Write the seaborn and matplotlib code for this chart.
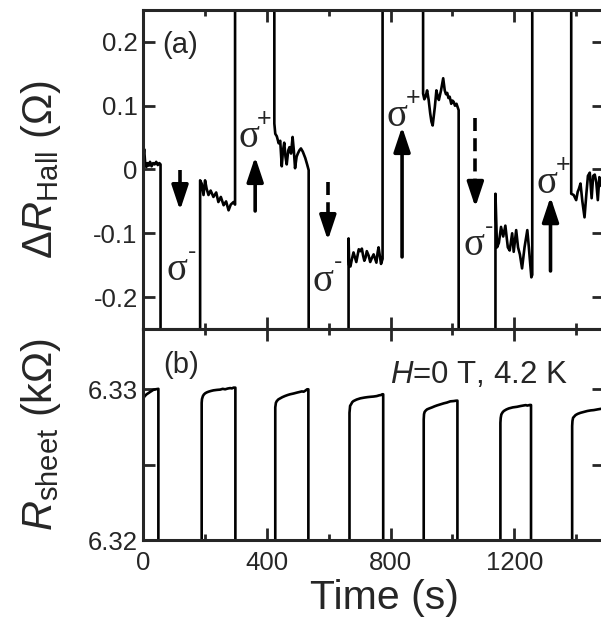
import matplotlib
matplotlib.use("Agg")
import matplotlib.pyplot as plt
import matplotlib.ticker as mticker
import numpy as np
import pandas as pd
import seaborn as sns

# ------------------------------------------------------------------ data
# (a) Hall resistance change; segments between illumination periods.
hall_a_t = [0, 3, 6, 10, 14, 18, 22, 27, 32, 37, 42, 47, 52, 56]
hall_a_v = [0.018, 0.032, 0.012, 0.004, 0.010, 0.006, 0.012, 0.005, 0.010, 0.008, 0.012, 0.007, 0.010, 0.008]
hall_b_t = [184, 189, 195, 200, 205, 211, 218, 227, 236, 243, 251, 260, 268, 276, 283, 292, 297]
hall_b_v = [-0.017, -0.022, -0.040, -0.017, -0.030, -0.040, -0.033, -0.043, -0.036, -0.051, -0.043, -0.056, -0.050, -0.064, -0.055, -0.051, -0.055]
hall_c_t = [424, 427, 432, 438, 443, 448, 452, 456, 460, 464, 469, 473, 478, 483, 487, 491, 496, 500, 505, 510, 516, 524, 530, 535]
hall_c_v = [0.072, 0.056, 0.052, 0.041, 0.045, 0.005, 0.030, 0.042, 0.020, 0.008, 0.030, 0.035, 0.025, 0.051, 0.030, 0.002, 0.020, 0.025, 0.030, 0.033, 0.028, 0.018, 0.008, -0.001]
hall_d_t = [664, 666, 670, 675, 680, 685, 689, 693, 697, 702, 707, 711, 715, 719, 723, 729, 734, 740, 745, 750, 754, 758, 761, 765, 769, 774]
hall_d_v = [-0.108, -0.150, -0.152, -0.140, -0.130, -0.138, -0.145, -0.135, -0.125, -0.128, -0.124, -0.135, -0.143, -0.138, -0.128, -0.135, -0.145, -0.138, -0.133, -0.140, -0.146, -0.130, -0.122, -0.135, -0.148, -0.140]
hall_e_t = [905, 909, 913, 918, 923, 928, 932, 936, 940, 943, 948, 952, 956, 960, 963, 967, 970, 975, 979, 983, 987, 991, 996, 1000, 1004, 1008, 1013, 1017, 1020]
hall_e_v = [0.119, 0.110, 0.114, 0.124, 0.109, 0.088, 0.075, 0.069, 0.085, 0.098, 0.124, 0.115, 0.109, 0.118, 0.124, 0.135, 0.143, 0.124, 0.118, 0.120, 0.112, 0.114, 0.103, 0.108, 0.106, 0.100, 0.103, 0.097, 0.093]
hall_f_t = [1139, 1144, 1150, 1157, 1164, 1171, 1179, 1185, 1193, 1198, 1206, 1212, 1218, 1225, 1233, 1242, 1247, 1255, 1258]
hall_f_v = [-0.038, -0.122, -0.115, -0.090, -0.105, -0.088, -0.122, -0.127, -0.100, -0.129, -0.095, -0.122, -0.133, -0.155, -0.122, -0.095, -0.122, -0.169, -0.165]
hall_g_t = [1384, 1392, 1400, 1405, 1409, 1414, 1420, 1427, 1433, 1438, 1444, 1450, 1455, 1460, 1465, 1470, 1475, 1480, 1490]
hall_g_v = [-0.038, -0.040, -0.048, -0.035, -0.030, -0.022, -0.050, -0.075, -0.038, -0.010, -0.005, -0.045, -0.010, -0.008, -0.020, -0.048, -0.012, -0.025, -0.030]
# level the Hall signal takes (off the plotted range) during each illumination gap
hall_gap_level = [-0.4, 0.4, -0.4, 0.4, -0.4, 0.4]

# (b) sheet resistance segments
rs_1_t = [0, 5, 11, 17, 22, 28, 33, 40, 46, 49]
rs_1_v = [6.32940, 6.32955, 6.32967, 6.32975, 6.32982, 6.32990, 6.32997, 6.33000, 6.33002, 6.33003]
rs_2_t = [189, 190, 193, 196, 200, 205, 211, 219, 227, 238, 249, 257, 265, 273, 281, 287, 292, 298]
rs_2_v = [6.32910, 6.32935, 6.32955, 6.32965, 6.32973, 6.32979, 6.32984, 6.32989, 6.32993, 6.32996, 6.32998, 6.33003, 6.33000, 6.33005, 6.33008, 6.33006, 6.33011, 6.33011]
rs_3_t = [427, 429, 432, 437, 443, 450, 459, 467, 475, 486, 497, 505, 513, 519, 525, 530, 534]
rs_3_v = [6.32880, 6.32910, 6.32922, 6.32933, 6.32940, 6.32948, 6.32956, 6.32962, 6.32967, 6.32972, 6.32978, 6.32982, 6.32986, 6.32984, 6.32992, 6.33000, 6.33000]
rs_4_t = [667, 669, 672, 676, 680, 690, 702, 715, 725, 734, 745, 755, 763, 769, 773, 776]
rs_4_v = [6.32844, 6.32890, 6.32900, 6.32915, 6.32922, 6.32932, 6.32940, 6.32945, 6.32948, 6.32950, 6.32952, 6.32955, 6.32960, 6.32962, 6.32967, 6.32967]
rs_5_t = [907, 908, 910, 914, 918, 925, 934, 942, 950, 961, 972, 982, 993, 1004, 1010, 1016]
rs_5_v = [6.32800, 6.32835, 6.32850, 6.32860, 6.32867, 6.32873, 6.32880, 6.32887, 6.32893, 6.32900, 6.32907, 6.32912, 6.32920, 6.32922, 6.32924, 6.32925]
rs_6_t = [1155, 1156, 1158, 1162, 1166, 1174, 1182, 1195, 1209, 1220, 1231, 1237, 1242, 1250, 1254]
rs_6_v = [6.32778, 6.32810, 6.32833, 6.32847, 6.32856, 6.32866, 6.32873, 6.32880, 6.32884, 6.32889, 6.32893, 6.32895, 6.32892, 6.32896, 6.32896]
rs_7_t = [1387, 1388, 1390, 1394, 1398, 1405, 1414, 1425, 1436, 1447, 1457, 1470, 1482, 1490]
rs_7_v = [6.32756, 6.32790, 6.32811, 6.32820, 6.32829, 6.32837, 6.32844, 6.32850, 6.32856, 6.32860, 6.32862, 6.32867, 6.32871, 6.32873]
rs_gap_level = [6.31] * 6

# arrows and sigma labels in panel (a)
arrow_t = [119, 362, 597, 837, 1074, 1317]
arrow_tail = [-0.001, -0.065, -0.020, -0.137, 0.080, -0.159]
arrow_head = [-0.064, 0.020, -0.111, 0.067, -0.059, -0.043]
arrow_dashed = [True, False, True, False, True, False]
sigma_t = [109, 342, 582, 822, 1068, 1307]
sigma_v = [-0.158, 0.050, -0.175, 0.083, -0.119, -0.022]
sigma_sign = ["-", "+", "-", "+", "-", "+"]

x_ticks = [0, 400, 800, 1200]
hall_ticks = [-0.2, -0.1, 0, 0.1, 0.2]
hall_tick_labels = ["-0.2", "-0.1", "0", "0.1", "0.2"]
rs_ticks = [6.32, 6.325, 6.33]
rs_tick_labels = ["6.32", "", "6.33"]


def join_segments(ts_list, vs_list, gaps):
    t_all, v_all = [], []
    for i, (ts, vs) in enumerate(zip(ts_list, vs_list)):
        if i > 0:
            t_all.append(ts[0]); v_all.append(gaps[i - 1])
        t_all += ts; v_all += vs
        if i < len(ts_list) - 1:
            t_all.append(ts[-1]); v_all.append(gaps[i])
    return pd.DataFrame({"t": t_all, "v": v_all})


hall_df = join_segments(
    [hall_a_t, hall_b_t, hall_c_t, hall_d_t, hall_e_t, hall_f_t, hall_g_t],
    [hall_a_v, hall_b_v, hall_c_v, hall_d_v, hall_e_v, hall_f_v, hall_g_v],
    hall_gap_level)
rs_df = join_segments(
    [rs_1_t, rs_2_t, rs_3_t, rs_4_t, rs_5_t, rs_6_t, rs_7_t],
    [rs_1_v, rs_2_v, rs_3_v, rs_4_v, rs_5_v, rs_6_v, rs_7_v],
    rs_gap_level)

# ------------------------------------------------------------------ style
sns.set_style("ticks")
plt.rcParams["font.family"] = ["Liberation Sans", "DejaVu Sans"]
plt.rcParams["mathtext.fontset"] = "custom"
plt.rcParams["mathtext.rm"] = "Liberation Sans"
plt.rcParams["mathtext.it"] = "Liberation Sans:italic"
plt.rcParams["mathtext.bf"] = "Liberation Sans:bold"
plt.rcParams["axes.unicode_minus"] = False

fig = plt.figure(figsize=(6.01, 6.28), dpi=100)
ax1 = fig.add_axes([0.2383, 0.4761, 0.7667, 0.508])
ax2 = fig.add_axes([0.2383, 0.1401, 0.7667, 0.336])

sns.lineplot(data=hall_df, x="t", y="v", ax=ax1, sort=False, estimator=None,
             color="black", lw=1.9)
sns.lineplot(data=rs_df, x="t", y="v", ax=ax2, sort=False, estimator=None,
             color="black", lw=1.9)

for ax in (ax1, ax2):
    ax.set_xlim(0, 1490)
    ax.xaxis.set_major_locator(mticker.FixedLocator(x_ticks))
    ax.xaxis.set_minor_locator(mticker.MultipleLocator(200))
    ax.tick_params(which="both", direction="in", top=True, right=True,
                   bottom=True, left=True, width=2, labelsize=18.5, pad=4)
    ax.tick_params(which="major", length=8.5)
    ax.tick_params(which="minor", length=4)
    for s in ax.spines.values():
        s.set_linewidth(2.2)
        s.set_visible(True)
    ax.set_xlabel("")
    ax.set_ylabel("")

ax1.set_ylim(-0.25, 0.25)
ax1.yaxis.set_major_locator(mticker.FixedLocator(hall_ticks))
ax1.yaxis.set_major_formatter(mticker.FixedFormatter(hall_tick_labels))
ax1.tick_params(labelbottom=False)

ax2.set_ylim(6.32, 6.334)
ax2.yaxis.set_major_locator(mticker.FixedLocator(rs_ticks))
ax2.yaxis.set_major_formatter(mticker.FixedFormatter(rs_tick_labels))
ax2.yaxis.set_minor_locator(mticker.NullLocator())
ax2.xaxis.set_major_formatter(mticker.FixedFormatter([str(v) for v in x_ticks]))
ax2.tick_params(axis="x", pad=8)

ax1.set_ylabel(r"$\mathit{\Delta R}_{\mathrm{Hall}}$ (Ω)", fontsize=30)
ax1.yaxis.set_label_coords(-0.174, 0.5)
ax2.set_ylabel(r"$\mathit{R}_{\mathrm{sheet}}$ (kΩ)", fontsize=30)
ax2.yaxis.set_label_coords(-0.174, 0.5)
ax2.set_xlabel("Time (s)", fontsize=29.5)
ax2.xaxis.set_label_coords(0.524, -0.185)

ax1.text(0.041, 0.89, "(a)", transform=ax1.transAxes, fontsize=21,
         ha="left", va="center")
ax2.text(0.043, 0.83, "(b)", transform=ax2.transAxes, fontsize=21,
         ha="left", va="center")
ax2.text(0.922, 0.746, r"$H$=0 T, 4.2 K", transform=ax2.transAxes,
         fontsize=22.5, ha="right", va="baseline")

head_len = 0.03  # length of the arrow head along y (data units)
for t, y0, y1, dashed in zip(arrow_t, arrow_tail, arrow_head, arrow_dashed):
    d = 1 if y1 > y0 else -1
    if dashed:
        ax1.plot([t, t], [y0, y1 - d * head_len * 0.9], color="black", lw=2.6,
                 dashes=(3.6, 2.0), solid_capstyle="butt", dash_capstyle="butt")
        start = y1 - d * head_len * 1.05
    else:
        start = y0
    ax1.annotate("", xy=(t, y1), xytext=(t, start),
                 arrowprops=dict(arrowstyle="-|>,head_length=0.75,head_width=0.25",
                                 mutation_scale=20, lw=2.6, color="black",
                                 shrinkA=0, shrinkB=0))

for t, v, sgn in zip(sigma_t, sigma_v, sigma_sign):
    ax1.text(t, v, "σ", fontsize=28, family=["Liberation Serif", "DejaVu Serif"],
             ha="center", va="center")
    ax1.annotate(sgn, xy=(t, v), xytext=(11, 13.5), textcoords="offset points",
                 fontsize=18, ha="center", va="center")

fig.savefig("out.png", dpi=100)
